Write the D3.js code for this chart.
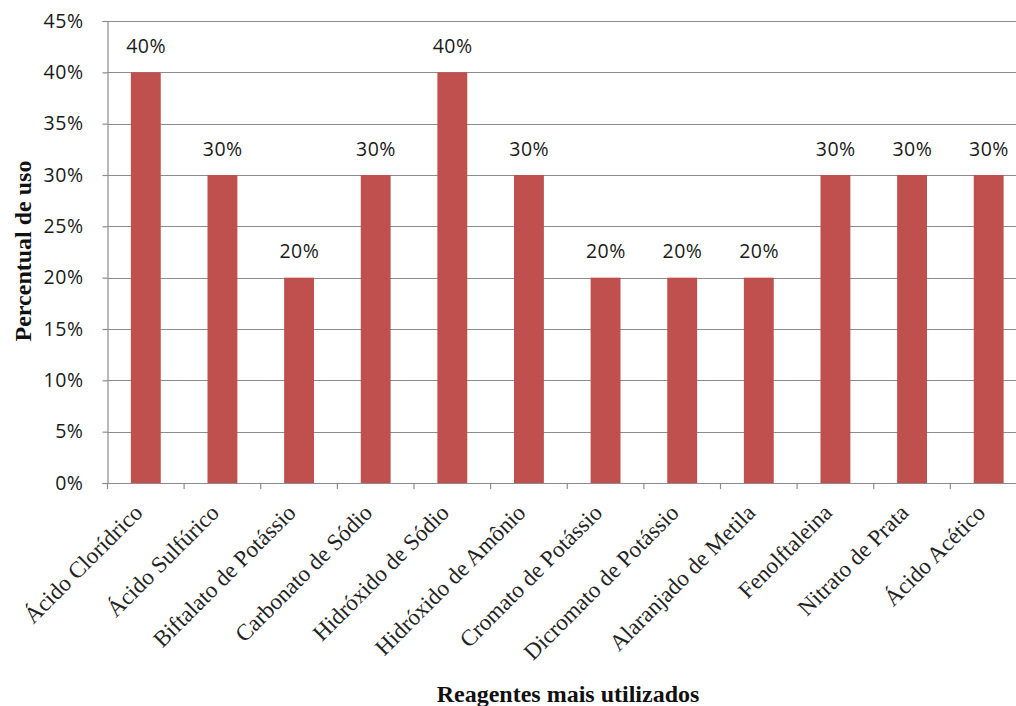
<!DOCTYPE html>
<html>
<head>
<meta charset="utf-8">
<script src="https://cdn.jsdelivr.net/npm/d3@7"></script>
<style>
  html, body { margin: 0; padding: 0; background: #fff; }
  svg { display: block; }
</style>
</head>
<body>
<svg id="chart" width="1016" height="706"></svg>
<script>
// Reagents and their usage share (fraction)
const categories = [
  "Ácido Clorídrico", "Ácido Sulfúrico", "Biftalato de Potássio", "Carbonato de Sódio",
  "Hidróxido de Sódio", "Hidróxido de Amônio", "Cromato de Potássio", "Dicromato de Potássio",
  "Alaranjado de Metila", "Fenolftaleina", "Nitrato de Prata", "Ácido Acético"
];
const values = [0.40, 0.30, 0.20, 0.30, 0.40, 0.30, 0.20, 0.20, 0.20, 0.30, 0.30, 0.30];
const yTicks = [0, 0.05, 0.10, 0.15, 0.20, 0.25, 0.30, 0.35, 0.40, 0.45];

const svg = d3.select("#chart");
const plotLeft = 107.5, plotRight = 1027, plotTop = 21, plotBottom = 483;
const gridColor = "#8c8c8c";
const sansFont = "'Open Sans', sans-serif";
const serifFont = "'Liberation Serif', 'Times New Roman', serif";

const x = d3.scaleBand().domain(categories).range([plotLeft, plotRight]).paddingInner(0.61).paddingOuter(0.305);
const band = d3.scaleBand().domain(categories).range([plotLeft, plotRight]);
const y = d3.scaleLinear().domain([0, 0.45]).range([plotBottom, plotTop]);
const pct = d3.format(".0%");

// Horizontal gridlines
svg.append("g")
  .selectAll("line")
  .data(yTicks.slice(1))
  .join("line")
  .attr("x1", plotLeft).attr("x2", 1016)
  .attr("y1", d => Math.round(y(d)) + 0.5).attr("y2", d => Math.round(y(d)) + 0.5)
  .attr("stroke", gridColor).attr("stroke-width", 1.2);

// Bars
svg.append("g")
  .selectAll("rect")
  .data(values)
  .join("rect")
  .attr("x", (d, i) => x(categories[i]))
  .attr("width", x.bandwidth())
  .attr("y", d => y(d))
  .attr("height", d => y(0) - y(d))
  .attr("fill", "#c0504d");

// Value labels above bars
svg.append("g")
  .selectAll("text")
  .data(values)
  .join("text")
  .attr("x", (d, i) => x(categories[i]) + x.bandwidth() / 2 + 0.3)
  .attr("y", d => y(d) - 19.5)
  .attr("text-anchor", "middle")
  .attr("font-family", sansFont)
  .attr("font-size", 19.5)
  .attr("letter-spacing", 0.5)
  .attr("fill", "#1a1a1a")
  .text(d => pct(d));

// Y axis
const yAxis = svg.append("g")
  .attr("transform", `translate(${plotLeft},0)`)
  .call(d3.axisLeft(y).tickValues(yTicks).tickFormat(pct).tickSize(5).tickPadding(19));
yAxis.selectAll("path, line").attr("stroke", gridColor).attr("stroke-width", 1.2);
yAxis.selectAll("text")
  .attr("font-family", sansFont)
  .attr("font-size", 19.5)
  .attr("letter-spacing", 0.5)
  .attr("fill", "#1a1a1a");

// X axis line with ticks on category boundaries
const xAxisG = svg.append("g").attr("transform", `translate(0,${plotBottom})`);
xAxisG.append("line")
  .attr("x1", plotLeft).attr("x2", 1016).attr("y1", 0.5).attr("y2", 0.5)
  .attr("stroke", gridColor).attr("stroke-width", 1.2);
xAxisG.selectAll("line.tick")
  .data(categories)
  .join("line")
  .attr("class", "tick")
  .attr("x1", d => band(d)).attr("x2", d => band(d))
  .attr("y1", 0).attr("y2", 6)
  .attr("stroke", gridColor).attr("stroke-width", 1.2);

// Rotated category labels
const xg = svg.append("g").attr("transform", `translate(0,${plotBottom})`)
  .call(d3.axisBottom(x).tickSize(0).tickPadding(0));
xg.select(".domain").remove();
xg.selectAll("text")
  .attr("font-family", serifFont)
  .attr("font-size", 23)
  .attr("fill", "#222")
  .attr("text-anchor", "end")
  .attr("dy", 0)
  .attr("transform", "translate(-2,31) rotate(-45)");

// Axis titles
svg.append("text")
  .attr("x", 568).attr("y", 702)
  .attr("text-anchor", "middle")
  .attr("font-family", serifFont)
  .attr("font-weight", "bold")
  .attr("font-size", 24)
  .attr("fill", "#111")
  .text("Reagentes mais utilizados");

svg.append("text")
  .attr("transform", "translate(31,251) rotate(-90)")
  .attr("text-anchor", "middle")
  .attr("font-family", serifFont)
  .attr("font-weight", "bold")
  .attr("font-size", 24)
  .attr("fill", "#111")
  .text("Percentual de uso");
</script>
</body>
</html>
